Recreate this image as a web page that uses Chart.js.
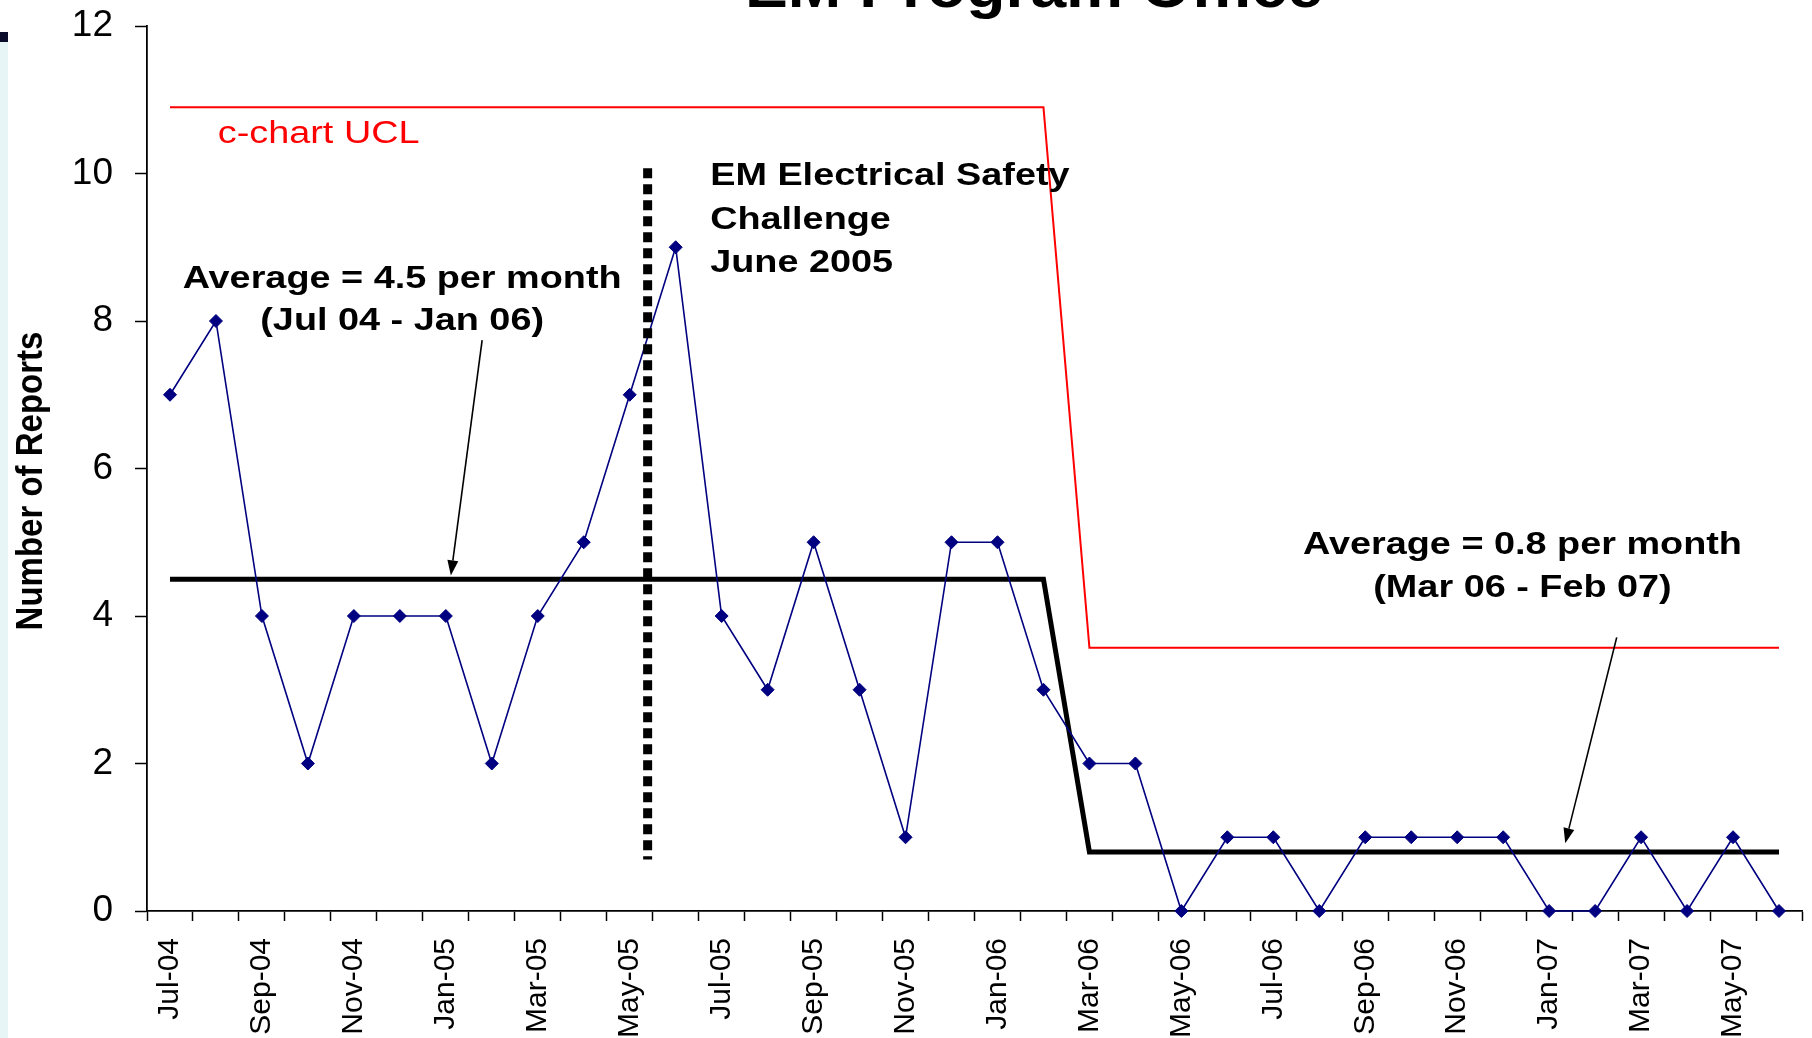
<!DOCTYPE html>
<html>
<head>
<meta charset="utf-8">
<title>EM Program Office</title>
<style>
  html, body { margin: 0; padding: 0; background: #ffffff; }
  canvas { display: block; }
</style>
<script src="https://cdn.jsdelivr.net/npm/chart.js@4.4.1/dist/chart.umd.min.js"></script>
</head>
<body>
<canvas id="chart" width="1812" height="1038"></canvas>
<script>
// Monthly electrical safety reports, Jul 2004 - Jun 2007
const months = [
  'Jul-04', 'Aug-04', 'Sep-04', 'Oct-04', 'Nov-04', 'Dec-04',
  'Jan-05', 'Feb-05', 'Mar-05', 'Apr-05', 'May-05', 'Jun-05',
  'Jul-05', 'Aug-05', 'Sep-05', 'Oct-05', 'Nov-05', 'Dec-05',
  'Jan-06', 'Feb-06', 'Mar-06', 'Apr-06', 'May-06', 'Jun-06',
  'Jul-06', 'Aug-06', 'Sep-06', 'Oct-06', 'Nov-06', 'Dec-06',
  'Jan-07', 'Feb-07', 'Mar-07', 'Apr-07', 'May-07', 'Jun-07'
];

const reports = [
  7, 8, 4, 2, 4, 4,
  4, 2, 4, 5, 7, 9,
  4, 3, 5, 3, 1, 5,
  5, 3, 2, 2, 0, 1,
  1, 0, 1, 1, 1, 1,
  0, 0, 1, 0, 1, 0
];

// Average of the period (4.5 before the drop, 0.8 after)
const averageLine = [
  4.5, 4.5, 4.5, 4.5, 4.5, 4.5,
  4.5, 4.5, 4.5, 4.5, 4.5, 4.5,
  4.5, 4.5, 4.5, 4.5, 4.5, 4.5,
  4.5, 4.5, 0.8, 0.8, 0.8, 0.8,
  0.8, 0.8, 0.8, 0.8, 0.8, 0.8,
  0.8, 0.8, 0.8, 0.8, 0.8, 0.8
];

// c-chart upper control limit
const uclLine = [
  10.9, 10.9, 10.9, 10.9, 10.9, 10.9,
  10.9, 10.9, 10.9, 10.9, 10.9, 10.9,
  10.9, 10.9, 10.9, 10.9, 10.9, 10.9,
  10.9, 10.9, 3.57, 3.57, 3.57, 3.57,
  3.57, 3.57, 3.57, 3.57, 3.57, 3.57,
  3.57, 3.57, 3.57, 3.57, 3.57, 3.57
];

const yTicks = [0, 2, 4, 6, 8, 10, 12];
// every other month is labelled on the axis
const xTickLabels = months.map((m, i) => (i % 2 === 0 ? m : ''));

const FONT = "'Liberation Sans', Arial, Helvetica, sans-serif";
Chart.defaults.font.family = FONT;
Chart.defaults.color = '#000000';

// Text boxes on the chart are drawn slightly widened
const TEXT_STRETCH = 1.22;
function stretchedText(ctx, text, x, y, align, font, color, stretch) {
  ctx.save();
  ctx.font = font;
  ctx.fillStyle = color;
  ctx.textAlign = align;
  ctx.textBaseline = 'alphabetic';
  ctx.translate(x, y);
  ctx.scale(stretch, 1);
  ctx.fillText(text, 0, 0);
  ctx.restore();
}

function arrow(ctx, x1, y1, x2, y2) {
  const ang = Math.atan2(y2 - y1, x2 - x1);
  const headLen = 15, headHalf = 5.5;
  const bx = x2 - headLen * Math.cos(ang), by = y2 - headLen * Math.sin(ang);
  ctx.save();
  ctx.strokeStyle = '#000000';
  ctx.fillStyle = '#000000';
  ctx.lineWidth = 1.6;
  ctx.beginPath();
  ctx.moveTo(x1, y1);
  ctx.lineTo(bx, by);
  ctx.stroke();
  ctx.beginPath();
  ctx.moveTo(x2, y2);
  ctx.lineTo(bx + headHalf * Math.sin(ang), by - headHalf * Math.cos(ang));
  ctx.lineTo(bx - headHalf * Math.sin(ang), by + headHalf * Math.cos(ang));
  ctx.closePath();
  ctx.fill();
  ctx.restore();
}

// Page background, side strip, title, axis title and the call-outs
const decorations = {
  id: 'decorations',
  beforeDraw(chart) {
    const ctx = chart.ctx;
    ctx.save();
    ctx.fillStyle = '#ffffff';
    ctx.fillRect(0, 0, chart.width, chart.height);
    ctx.fillStyle = '#e8f5f6';
    ctx.fillRect(0, 42, 8, chart.height - 42);
    ctx.fillStyle = '#0b0b2a';
    ctx.fillRect(0, 32, 8, 10);
    ctx.restore();
  },
  afterDatasetsDraw(chart) {
    const ctx = chart.ctx;
    const xs = chart.scales.x, ys = chart.scales.y;
    const X = v => xs.getPixelForValue(v);
    const Y = v => ys.getPixelForValue(v);

    // Start of the EM Electrical Safety Challenge
    ctx.save();
    ctx.strokeStyle = '#000000';
    ctx.lineWidth = 9;
    ctx.setLineDash([10, 6]);
    ctx.beginPath();
    ctx.moveTo(X(10.39), Y(10.07));
    ctx.lineTo(X(10.39), Y(0.70));
    ctx.stroke();
    ctx.restore();

    const bold = 'bold 31px ' + FONT;
    const regular = '31px ' + FONT;

    stretchedText(ctx, 'c-chart UCL', X(1.04), Y(10.41), 'left', regular, '#ff0000', TEXT_STRETCH);

    const chLeft = X(11.75), chTop = Y(9.84);
    stretchedText(ctx, 'EM Electrical Safety', chLeft, chTop, 'left', bold, '#000000', TEXT_STRETCH);
    stretchedText(ctx, 'Challenge', chLeft, chTop + 43.3, 'left', bold, '#000000', TEXT_STRETCH);
    stretchedText(ctx, 'June 2005', chLeft, chTop + 86.6, 'left', bold, '#000000', TEXT_STRETCH);

    const a1x = X(5.05), a1y = Y(8.45);
    stretchedText(ctx, 'Average = 4.5 per month', a1x, a1y, 'center', bold, '#000000', TEXT_STRETCH);
    stretchedText(ctx, '(Jul 04 - Jan 06)', a1x, a1y + 42.5, 'center', bold, '#000000', TEXT_STRETCH);
    arrow(ctx, X(6.79), Y(7.74), X(6.11), Y(4.55));

    const a2x = X(29.42), a2y = Y(4.84);
    stretchedText(ctx, 'Average = 0.8 per month', a2x, a2y, 'center', bold, '#000000', TEXT_STRETCH);
    stretchedText(ctx, '(Mar 06 - Feb 07)', a2x, a2y + 43, 'center', bold, '#000000', TEXT_STRETCH);
    arrow(ctx, X(31.47), Y(3.71), X(30.35), Y(0.92));
  },
  afterDraw(chart) {
    const ctx = chart.ctx;
    // chart title, running off the top edge
    stretchedText(ctx, 'EM Program Office', 1034, 7, 'center', 'bold 60px ' + FONT, '#000000', 1.07);

    // y-axis title
    ctx.save();
    ctx.font = 'bold 33px ' + FONT;
    ctx.fillStyle = '#000000';
    ctx.textAlign = 'center';
    ctx.textBaseline = 'alphabetic';
    ctx.translate(42, 481);
    ctx.rotate(-Math.PI / 2);
    ctx.scale(1, 1.12);
    ctx.fillText('Number of Reports', 0, 0);
    ctx.restore();
  }
};

new Chart(document.getElementById('chart'), {
  type: 'line',
  data: {
    labels: months,
    datasets: [
      {
        label: 'Number of Reports',
        data: reports,
        borderColor: '#000080',
        backgroundColor: '#000080',
        borderWidth: 1.6,
        pointStyle: 'rectRot',
        pointRadius: 6.5,
        pointBorderWidth: 1,
        pointBackgroundColor: '#000080',
        pointBorderColor: '#000080',
        tension: 0,
        clip: false
      },
      {
        label: 'Average',
        data: averageLine,
        borderColor: '#000000',
        borderWidth: 5,
        borderJoinStyle: 'miter',
        pointRadius: 0,
        tension: 0,
        clip: false
      },
      {
        label: 'c-chart UCL',
        data: uclLine,
        borderColor: '#ff0000',
        borderWidth: 2,
        pointRadius: 0,
        tension: 0,
        clip: false
      }
    ]
  },
  options: {
    responsive: false,
    animation: false,
    devicePixelRatio: 1,
    events: [],
    layout: { padding: { top: 26, right: 10, left: 0, bottom: 0 } },
    plugins: {
      legend: { display: false },
      tooltip: { enabled: false },
      title: { display: false }
    },
    scales: {
      x: {
        type: 'category',
        offset: true,
        grid: {
          offset: true,
          drawOnChartArea: false,
          drawTicks: true,
          tickLength: 10,
          tickWidth: 1.5,
          tickColor: '#000000',
          color: '#000000'
        },
        border: { display: true, color: '#000000', width: 1.8 },
        ticks: {
          autoSkip: false,
          maxRotation: 90,
          minRotation: 90,
          padding: 17,
          color: '#000000',
          font: { size: 30 },
          callback: (value, index) => xTickLabels[index]
        },
        afterFit(scale) {
          scale.height = 127;
          scale.paddingLeft = 0;
          scale.paddingRight = 0;
        }
      },
      y: {
        min: 0,
        max: 12,
        grid: {
          drawOnChartArea: false,
          drawTicks: true,
          tickLength: 12,
          tickWidth: 1.5,
          tickColor: '#000000',
          color: '#000000'
        },
        border: { display: true, color: '#000000', width: 1.8 },
        ticks: {
          padding: 22,
          color: '#000000',
          font: { size: 37 }
        },
        afterBuildTicks(scale) { scale.ticks = yTicks.map(v => ({ value: v })); },
        afterFit(scale) {
          scale.width = 147;
          scale.paddingTop = 0;
          scale.paddingBottom = 0;
        }
      }
    }
  },
  plugins: [decorations]
});
</script>
</body>
</html>
